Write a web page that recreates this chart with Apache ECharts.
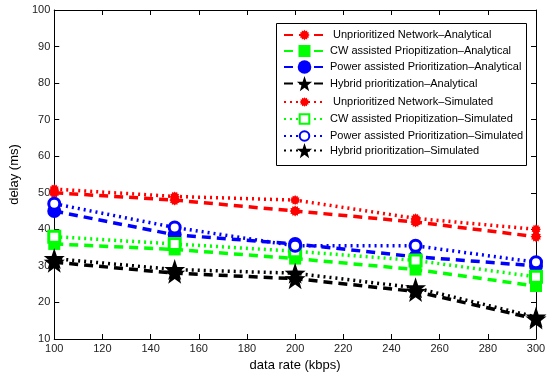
<!DOCTYPE html>
<html><head><meta charset="utf-8">
<script src="https://cdn.jsdelivr.net/npm/echarts@6/dist/echarts.min.js"></script>
<style>html,body{margin:0;padding:0;background:#fff}#c{width:550px;height:377px}</style>
</head><body><div id="c"></div>
<script>
const dataRate = [100, 150, 200, 250, 300];
const unpriAnalytical = [50, 48, 45, 42, 38];
const cwAnalytical = [36, 34.5, 32, 29, 24.5];
const powerAnalytical = [45, 38.5, 36, 32.5, 30];
const hybridAnalytical = [31, 28, 26.5, 23, 15.5];
const unpriSimulated = [51, 49, 48, 43, 40];
const cwSimulated = [38, 36, 34, 31.5, 27];
const powerSimulated = [47, 40.5, 35.5, 35.5, 31];
const hybridSimulated = [32, 29, 28, 24, 16];
const names = [
  ' Unprioritized Network–Analytical',
  'CW assisted Priopitization–Analytical',
  'Power assisted Prioritization–Analytical',
  'Hybrid prioritization–Analytical',
  ' Unprioritized Network–Simulated',
  'CW assisted Priopitization–Simulated',
  'Power assisted Prioritization–Simulated',
  'Hybrid prioritization–Simulated'
];

function starPath(n, rOut, rIn) {
  let p = '';
  for (let i = 0; i < 2 * n; i++) {
    const r = i % 2 === 0 ? rOut : rIn;
    const a = -Math.PI / 2 + i * Math.PI / n;
    p += (i === 0 ? 'M' : 'L') + (50 + r * Math.cos(a)).toFixed(2) + ' ' + (50 + r * Math.sin(a)).toFixed(2);
  }
  return 'path://' + p + 'Z';
}
const pentagram = starPath(5, 50, 20);
const spiky = starPath(12, 50, 38);

const dashA = [9, 6];
const dotS = [2, 4];
function mk(name, vals, color, dash, symbol, size, filled, z) {
  return {
    name: name, type: 'line',
    data: dataRate.map((x, i) => [x, vals[i]]),
    lineStyle: {color: color, width: 3.5, type: dash, cap: 'butt'},
    itemStyle: {color: filled ? color : '#fff', borderColor: color, borderWidth: filled ? 0 : 3},
    symbol: symbol, symbolSize: size, showAllSymbol: true,
    z: z, animation: false
  };
}
const series = [
  mk(names[0], unpriAnalytical, '#ff0000', dashA, spiky, 11, true, 2),
  mk(names[1], cwAnalytical, '#00ff00', dashA, 'rect', 12, true, 2),
  mk(names[2], powerAnalytical, '#0000ff', dashA, 'circle', 14, true, 2),
  mk(names[3], hybridAnalytical, '#000000', dashA, pentagram, 21, true, 2),
  mk(names[4], unpriSimulated, '#ff0000', dotS, spiky, 10, true, 3),
  mk(names[5], cwSimulated, '#00ff00', dotS, 'rect', 11, false, 3),
  mk(names[6], powerSimulated, '#0000ff', dotS, 'circle', 11, false, 3),
  mk(names[7], hybridSimulated, '#000000', dotS, pentagram, 21, true, 3)
];

const font = 'Liberation Sans, Arial, sans-serif';
// legend rows: individual legends for uniform spacing
const legendIconH = [13, 15, 17, 19, 12, 12, 12, 19];
const legends = names.map((n, i) => {
  const h = legendIconH[i];
  const ch = Math.max(h, 14);
  return {
    orient: 'vertical', left: 283, top: Math.round(34.5 + i * 16.9 - ch / 2),
    padding: 0, itemWidth: 41, itemHeight: h, itemGap: 0,
    textStyle: {fontFamily: font, fontSize: 11, color: '#000', lineHeight: 14},
    data: [n], z: 20, selectedMode: false
  };
});

const axisCommon = {
  axisLine: {show: true, lineStyle: {color: '#000', width: 1}},
  axisTick: {show: true, inside: true, length: 5, lineStyle: {color: '#000'}},
  splitLine: {show: false}
};
const chart = echarts.init(document.getElementById('c'), null, {renderer: 'canvas'});
chart.setOption({
  animation: false,
  backgroundColor: '#fff',
  grid: {left: 46, top: 10, right: 14, bottom: 37},
  graphic: [{
    type: 'rect', left: 276, top: 23, z: 10,
    shape: {width: 250, height: 142},
    style: {fill: '#fff', stroke: '#000', lineWidth: 1}
  }],
  legend: legends,
  xAxis: [
    Object.assign({type: 'value', min: 100, max: 300, interval: 20, position: 'bottom',
      name: 'data rate (kbps)', nameLocation: 'middle', nameGap: 20,
      nameTextStyle: {fontFamily: font, fontSize: 13, color: '#000'},
      axisLabel: {fontFamily: font, fontSize: 11, color: '#222', margin: 4}}, axisCommon),
    Object.assign({type: 'value', min: 100, max: 300, interval: 20, position: 'top',
      axisLabel: {show: false}}, axisCommon)
  ],
  yAxis: [
    Object.assign({type: 'value', min: 10, max: 100, interval: 10, position: 'left',
      name: 'delay (ms)', nameLocation: 'middle', nameGap: 28,
      nameTextStyle: {fontFamily: font, fontSize: 13, color: '#000'},
      axisLabel: {fontFamily: font, fontSize: 11, color: '#222', margin: 4}}, axisCommon),
    Object.assign({type: 'value', min: 10, max: 100, interval: 10, position: 'right',
      axisLabel: {show: false}}, axisCommon)
  ],
  series: series
});
</script></body></html>
